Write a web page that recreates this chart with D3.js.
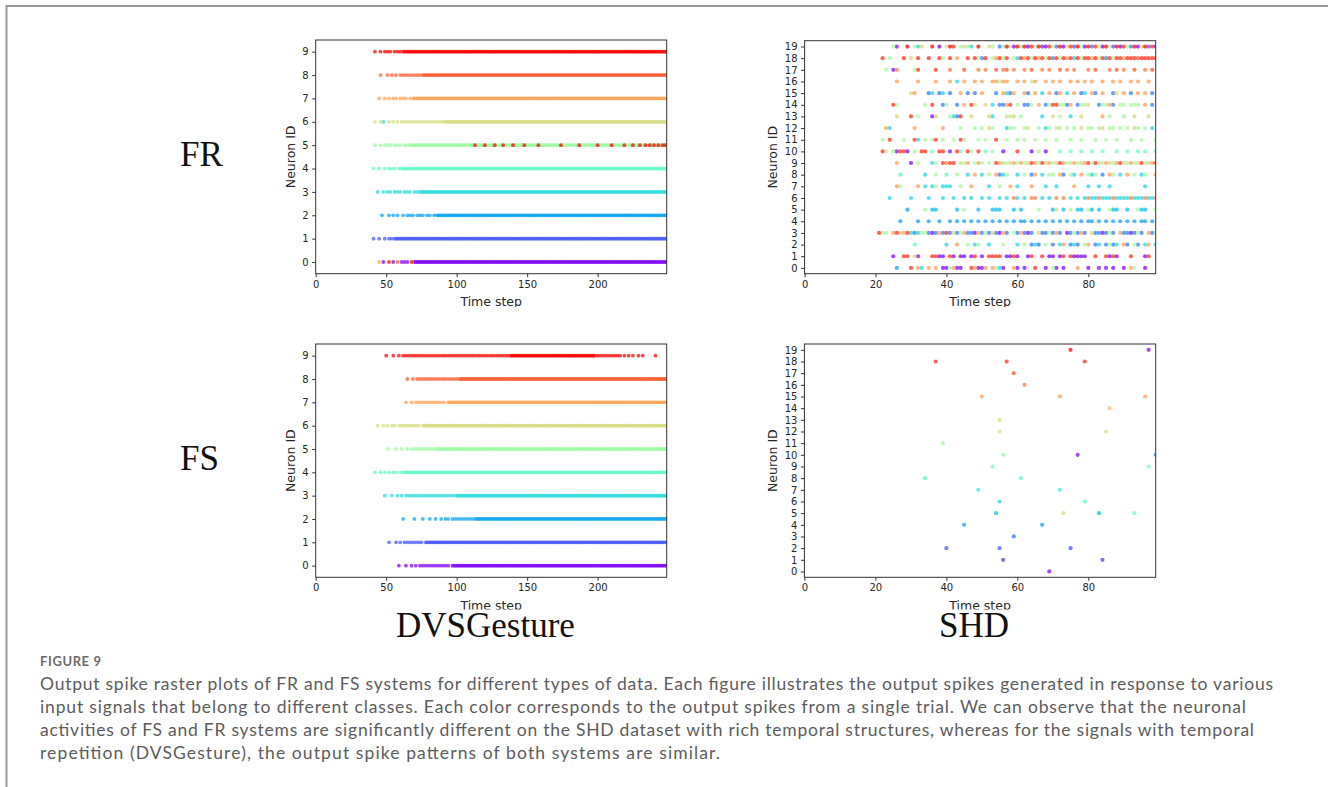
<!DOCTYPE html>
<html>
<head>
<meta charset="utf-8">
<script src="https://cdn.jsdelivr.net/npm/d3@7"></script>
<style>
  body { margin: 0; background: #fff; }
  svg { display: block; }
</style>
</head>
<body>
<svg id="fig" width="1328" height="787"></svg>
<script>
// ---------- axis data ----------
const dvsNeuronIds = [0, 1, 2, 3, 4, 5, 6, 7, 8, 9];
const shdNeuronIds = [0, 1, 2, 3, 4, 5, 6, 7, 8, 9, 10, 11, 12, 13, 14, 15, 16, 17, 18, 19];
const dvsTimeTicks = [0, 50, 100, 150, 200];
const shdTimeTicks = [0, 20, 40, 60, 80];
const dvsLastStep = 249;
const shdLastStep = 99;
const dvsClassCount = 10;
const shdClassCount = 20;

// ---------- DVSGesture, FR system ----------
// isolated spikes of neuron i emitted for a trial of class i
const frDvsSingles = [
  [48, 55, 61, 63, 65],
  [41, 45, 49, 52, 54],
  [47, 52, 55, 58, 62, 65, 67, 69, 72, 74, 76, 79, 81, 84],
  [44, 48, 51, 53, 56, 58, 60, 63, 65, 67, 70, 72],
  [41, 45, 49, 52, 54, 56, 59],
  [42, 46, 49, 51, 53, 56, 58, 60, 63, 65],
  [42, 46, 52, 55, 58, 61, 63, 65, 67, 69, 71, 73, 75, 77, 79, 81, 83, 85, 87, 89],
  [45, 49, 52, 55, 57, 60, 62, 64, 67],
  [46, 51, 54, 57, 60, 62, 64, 66, 68, 70, 72, 74],
  [42, 46, 49, 51, 53, 56, 58, 60]
];
// sustained firing: [neuron, first step, last step, interval]
const frDvsRuns = [
  [0, 70, 249, 1], [1, 56, 249, 1], [2, 86, 249, 1], [3, 74, 249, 1], [4, 61, 249, 1],
  [5, 67, 249, 1], [6, 91, 249, 1], [7, 69, 249, 1], [8, 76, 249, 1], [9, 62, 249, 1]
];
// spikes caused by trials of another class: [step, neuron, class]
const frDvsCross = [
  [45, 0, 7], [52, 0, 9], [58, 0, 8], [68, 0, 9], [48, 6, 3],
  [113, 5, 9], [120, 5, 9], [127, 5, 9], [133, 5, 9], [140, 5, 9], [148, 5, 9],
  [158, 5, 9], [174, 5, 9], [187, 5, 9], [200, 5, 9], [210, 5, 9], [219, 5, 9],
  [225, 5, 9], [230, 5, 9], [234, 5, 9], [237, 5, 9], [240, 5, 9], [243, 5, 9],
  [246, 5, 9], [248, 5, 9]
];

// ---------- DVSGesture, FS system ----------
const fsDvsSingles = [
  [59, 64, 68, 71, 74],
  [52, 57, 60, 63],
  [62, 70, 76, 81, 85, 89, 92, 94, 97],
  [49, 54, 58, 61, 64],
  [42, 46, 49, 52, 55, 57, 60],
  [51, 57, 61, 65, 68],
  [44, 48, 51, 54, 56, 59, 61],
  [64, 68, 71, 73],
  [65, 69],
  [50, 55, 59, 62, 64, 66, 68, 219, 222, 225, 229, 232, 241]
];
const fsDvsRuns = [
  [0, 76, 95, 2], [0, 97, 249, 1], [1, 65, 76, 2], [1, 78, 249, 1],
  [2, 99, 111, 2], [2, 113, 249, 1], [3, 66, 98, 2], [3, 100, 249, 1],
  [4, 62, 249, 1], [5, 70, 84, 2], [5, 86, 249, 1], [6, 63, 74, 2], [6, 76, 249, 1],
  [7, 75, 92, 2], [7, 94, 249, 1], [8, 72, 100, 2], [8, 102, 249, 1],
  [9, 70, 136, 2], [9, 138, 198, 1], [9, 200, 216, 2]
];
const fsDvsCross = [];

// ---------- SHD, FR system: per neuron, [step, class] ----------
const frShdSpikes = [
  // neuron 0
  [[26,4],[30,18],[32,15],[33,6],[35,15],[37,15],[39,0],[40,0],[41,11],[42,15],[43,0],[44,0],[47,18],[48,15],[49,0],[50,0],[51,15],[53,15],[54,11],[55,6],[56,0],[59,15],[60,0],[62,0],[65,18],[68,0],[70,11],[71,0],[73,0],[77,15],[80,0],[83,0],[85,0],[87,0],[90,0],[92,15],[93,11],[96,0]],
  // neuron 1
  [[25,0],[28,18],[29,18],[31,13],[32,0],[36,18],[37,18],[38,0],[39,0],[41,18],[42,0],[44,0],[45,0],[47,0],[48,18],[50,0],[52,18],[53,18],[54,18],[55,18],[57,0],[58,0],[59,18],[60,0],[63,0],[64,18],[67,18],[69,0],[70,0],[72,0],[73,18],[75,18],[76,0],[77,0],[78,0],[79,0],[82,18],[85,18],[86,0],[87,18],[88,0],[92,18],[96,0],[97,18]],
  // neuron 2
  [[31,8],[40,6],[43,15],[46,11],[48,6],[49,11],[52,6],[56,11],[60,6],[62,11],[64,3],[65,6],[66,3],[68,11],[70,3],[72,6],[73,15],[75,3],[76,6],[77,3],[79,11],[80,15],[82,3],[83,6],[85,3],[86,11],[87,3],[88,6],[90,15],[91,3],[93,11],[94,3],[96,6],[97,15],[99,6]],
  // neuron 3
  [[21,18],[22,11],[23,11],[25,15],[26,18],[27,13],[28,15],[29,18],[30,6],[31,3],[32,6],[33,11],[34,11],[35,3],[36,0],[37,3],[38,15],[39,3],[40,18],[41,3],[42,13],[43,3],[44,11],[45,15],[46,3],[47,3],[48,0],[49,15],[50,3],[51,11],[52,3],[53,13],[54,3],[55,0],[56,15],[57,3],[59,11],[60,3],[61,15],[62,3],[63,0],[64,3],[66,13],[67,3],[68,3],[69,11],[70,3],[71,15],[72,3],[74,0],[75,3],[76,11],[77,3],[78,15],[79,3],[81,13],[82,3],[83,3],[84,0],[85,3],[86,11],[87,3],[89,15],[90,3],[91,3],[92,0],[93,3],[94,11],[95,3],[97,15],[98,3],[99,11]],
  // neuron 4
  [[27,4],[32,4],[35,4],[38,4],[41,4],[43,4],[45,4],[47,4],[49,4],[51,4],[53,4],[55,4],[57,4],[59,4],[61,4],[62,4],[64,4],[66,4],[68,4],[70,4],[72,4],[74,4],[76,4],[78,4],[80,4],[81,4],[83,4],[85,4],[87,4],[89,4],[91,4],[93,4],[95,4],[96,4],[98,4]],
  // neuron 5
  [[29,4],[34,11],[36,5],[37,5],[43,5],[45,11],[49,5],[53,5],[54,5],[55,5],[59,5],[61,5],[66,11],[70,5],[71,13],[73,5],[75,11],[77,5],[78,5],[80,11],[81,5],[83,5],[86,11],[87,5],[88,5],[91,5],[94,11],[95,5],[96,5],[99,11]],
  // neuron 6
  [[24,6],[30,6],[35,6],[39,6],[42,6],[45,6],[47,6],[50,6],[52,6],[55,6],[57,6],[59,16],[60,6],[62,6],[64,16],[65,16],[67,6],[69,6],[71,16],[73,16],[75,6],[77,6],[79,6],[80,16],[81,6],[82,6],[83,16],[84,6],[85,6],[86,6],[87,16],[88,6],[89,6],[90,6],[91,6],[92,16],[93,6],[94,6],[95,6],[96,16],[97,6],[98,6],[99,16]],
  // neuron 7
  [[26,15],[27,11],[32,15],[34,6],[36,6],[37,11],[39,6],[40,6],[41,6],[44,11],[47,15],[52,6],[55,11],[58,15],[60,6],[64,15],[68,6],[71,6],[76,15],[80,6],[83,6],[86,6],[96,6]],
  // neuron 8
  [[27,8],[34,6],[37,11],[40,8],[43,11],[46,6],[48,15],[50,6],[52,11],[54,15],[55,3],[56,6],[57,11],[60,6],[62,11],[64,3],[65,15],[67,6],[69,11],[70,11],[72,15],[73,3],[75,11],[76,6],[78,15],[80,11],[81,6],[82,11],[84,3],[86,15],[87,11],[89,6],[91,15],[93,11],[95,6],[96,11],[99,15]],
  // neuron 9
  [[26,15],[30,0],[32,11],[36,6],[37,11],[39,18],[40,15],[41,18],[42,18],[44,13],[45,11],[46,15],[48,11],[49,15],[50,11],[52,11],[54,18],[55,15],[56,13],[57,11],[58,13],[59,15],[60,11],[61,15],[62,11],[63,13],[64,18],[65,15],[66,11],[67,18],[68,13],[69,15],[70,11],[71,13],[72,18],[73,15],[74,11],[75,13],[76,15],[77,11],[78,13],[79,15],[80,18],[81,11],[82,18],[83,13],[84,11],[85,15],[86,13],[87,11],[88,15],[89,18],[90,13],[91,11],[92,15],[93,11],[94,13],[95,18],[96,11],[97,13],[98,15],[99,18]],
  // neuron 10
  [[22,18],[23,11],[25,11],[26,0],[27,18],[28,18],[29,0],[31,11],[33,18],[34,18],[36,9],[38,18],[39,18],[41,0],[43,18],[44,9],[46,18],[47,11],[49,18],[51,9],[53,11],[56,0],[60,18],[64,0],[66,11],[68,0],[72,9],[75,9],[78,9],[81,9],[84,9],[88,9],[91,9],[94,9],[96,9],[99,9]],
  // neuron 11
  [[22,11],[24,18],[28,11],[31,18],[32,6],[34,11],[36,11],[37,18],[39,11],[42,11],[44,18],[45,11],[49,11],[51,11],[54,18],[57,11],[60,11],[62,11],[65,11],[68,11],[71,11],[75,11],[78,11],[82,11],[85,11],[88,11],[92,11],[95,11],[99,11]],
  // neuron 12
  [[23,15],[24,6],[31,15],[39,15],[44,11],[48,11],[50,11],[52,13],[53,11],[57,6],[58,11],[59,11],[62,11],[63,13],[66,11],[68,6],[69,11],[71,11],[72,13],[74,11],[76,11],[78,13],[80,11],[81,11],[83,11],[84,13],[86,11],[87,11],[89,11],[91,11],[93,13],[94,11],[96,11],[98,6]],
  // neuron 13
  [[26,13],[30,18],[32,12],[36,0],[37,13],[41,11],[42,6],[43,3],[44,18],[47,13],[52,13],[53,6],[57,13],[58,11],[59,13],[61,11],[67,6],[70,13],[72,11],[75,6],[78,13],[84,15],[86,11],[90,11],[93,13],[97,13]],
  // neuron 14
  [[25,18],[26,11],[34,11],[36,18],[39,3],[40,11],[43,3],[45,15],[47,18],[48,11],[51,13],[53,6],[55,3],[56,3],[57,15],[58,18],[60,11],[62,3],[63,3],[64,11],[66,15],[68,3],[69,11],[70,18],[71,18],[72,11],[73,11],[74,3],[75,15],[77,3],[78,11],[79,11],[80,13],[83,3],[84,11],[85,11],[86,15],[87,3],[89,11],[90,11],[92,11],[93,11],[94,11],[96,15],[98,3]],
  // neuron 15
  [[30,13],[31,15],[35,3],[36,6],[38,3],[39,6],[41,3],[44,15],[46,3],[48,3],[50,15],[54,3],[56,15],[57,6],[58,3],[59,15],[62,15],[63,3],[65,15],[67,6],[69,15],[71,3],[72,15],[74,6],[76,15],[78,3],[79,6],[81,15],[82,3],[84,15],[87,3],[88,13],[90,15],[92,3],[94,15],[96,15],[98,3]],
  // neuron 16
  [[26,15],[32,15],[37,15],[41,15],[43,6],[45,15],[48,15],[50,15],[53,15],[54,15],[55,11],[56,15],[57,15],[60,15],[62,15],[64,12],[65,15],[68,15],[70,15],[72,15],[75,15],[77,15],[79,15],[81,15],[84,15],[87,15],[89,15],[92,15],[94,15],[97,15]],
  // neuron 17
  [[23,11],[25,0],[26,16],[31,11],[32,18],[37,18],[41,16],[45,17],[49,16],[51,16],[54,17],[56,16],[57,17],[59,16],[62,16],[64,17],[67,16],[69,16],[72,17],[74,16],[76,16],[80,16],[82,17],[86,16],[88,17],[90,16],[93,17],[96,16],[98,17]],
  // neuron 18
  [[22,18],[24,11],[28,18],[30,13],[32,18],[35,18],[38,18],[39,11],[41,18],[43,15],[46,18],[48,18],[49,11],[50,3],[51,18],[53,11],[54,15],[55,18],[56,11],[57,18],[59,11],[60,6],[61,18],[62,15],[63,18],[64,11],[65,18],[66,15],[67,18],[68,11],[69,18],[70,4],[71,18],[72,11],[73,18],[74,15],[75,18],[76,6],[77,18],[78,11],[79,18],[80,18],[81,15],[82,18],[83,11],[84,18],[85,4],[86,18],[87,11],[88,18],[89,18],[90,15],[91,18],[92,18],[93,18],[94,17],[95,18],[96,18],[97,18],[98,18],[99,18]],
  // neuron 19
  [[25,11],[26,0],[29,19],[31,11],[32,6],[33,13],[36,19],[38,0],[40,11],[41,19],[42,18],[44,10],[45,13],[46,11],[47,6],[49,19],[52,13],[53,11],[55,3],[56,11],[57,19],[58,11],[59,0],[60,19],[61,11],[62,19],[63,0],[64,18],[65,11],[66,19],[67,1],[68,0],[69,18],[70,11],[71,3],[72,19],[73,0],[74,13],[75,18],[76,2],[77,19],[78,11],[79,0],[80,19],[81,3],[82,18],[83,12],[84,0],[85,19],[86,11],[87,2],[88,19],[89,0],[90,18],[91,11],[92,3],[93,19],[94,0],[95,13],[96,19],[97,2],[98,18],[99,0]]
];

// ---------- SHD, FS system: [step, neuron, class] ----------
const fsShdSpikes = [
  [75,19,19],[97,19,0],[37,18,18],[57,18,18],[79,18,18],[59,17,17],[62,16,16],
  [50,15,15],[72,15,15],[96,15,15],[86,14,14],[55,13,13],[55,12,12],[85,12,12],
  [39,11,11],[56,10,10],[77,10,0],[99,10,4],[53,9,9],[97,9,9],[34,8,8],[61,8,8],
  [49,7,7],[72,7,7],[55,6,6],[79,6,8],[54,5,5],[73,5,13],[83,5,5],[93,5,9],
  [45,4,4],[67,4,4],[59,3,3],[40,2,2],[55,2,2],[75,2,2],[56,1,1],[84,1,1],[69,0,0]
];

// ---------- text ----------
const rowLabels = ["FR", "FS"];
const columnLabels = ["DVSGesture", "SHD"];
const figureTag = "FIGURE 9";
const captionLines = [
  "Output spike raster plots of FR and FS systems for different types of data. Each figure illustrates the output spikes generated in response to various",
  "input signals that belong to different classes. Each color corresponds to the output spikes from a single trial. We can observe that the neuronal",
  "activities of FS and FR systems are significantly different on the SHD dataset with rich temporal structures, whereas for the signals with temporal",
  "repetition (DVSGesture), the output spike patterns of both systems are similar."
];

// ---------- helpers ----------
// matplotlib "rainbow" colour map
function rainbow(t) {
  const r = Math.min(1, Math.abs(2 * t - 0.5));
  const g = Math.sin(Math.PI * t);
  const b = Math.cos(Math.PI * t / 2);
  return d3.rgb(r * 255, g * 255, b * 255).formatHex();
}

// expand singles / runs / cross-class spikes into {t, n, c}
function dvsEvents(singles, runs, cross) {
  const out = [];
  singles.forEach((times, n) => times.forEach(t => out.push({ t, n, c: n })));
  runs.forEach(([n, a, b, every]) => {
    for (let t = a; t <= b; t += every) out.push({ t, n, c: n });
  });
  cross.forEach(([t, n, c]) => out.push({ t, n, c }));
  return out.sort((p, q) => p.c - q.c);
}

function shdRowEvents(rows) {
  const out = [];
  rows.forEach((row, n) => row.forEach(([t, c]) => out.push({ t, n, c })));
  return out.sort((p, q) => p.c - q.c);
}

const svg = d3.select("#fig");
const defs = svg.append("defs");

// page frame
svg.append("path")
  .attr("d", "M6.5,787 L6.5,6 L1328,6")
  .attr("fill", "none").attr("stroke", "#9a9a9a").attr("stroke-width", 2);

const panels = [
  { id: "frdvs", left: 315.7, right: 666.7, top: 40, bottom: 273.7, crop: 307,
    ids: dvsNeuronIds, ticks: dvsTimeTicks, last: dvsLastStep, classes: dvsClassCount,
    events: dvsEvents(frDvsSingles, frDvsRuns, frDvsCross), labelX: 290, r: 1.9 },
  { id: "frshd", left: 804.6, right: 1155.7, top: 40.7, bottom: 273.7, crop: 307,
    ids: shdNeuronIds, ticks: shdTimeTicks, last: shdLastStep, classes: shdClassCount,
    events: shdRowEvents(frShdSpikes), labelX: 772.5, r: 2.1 },
  { id: "fsdvs", left: 315.7, right: 666.7, top: 344, bottom: 577.3, crop: 609.5,
    ids: dvsNeuronIds, ticks: dvsTimeTicks, last: dvsLastStep, classes: dvsClassCount,
    events: dvsEvents(fsDvsSingles, fsDvsRuns, fsDvsCross), labelX: 290, r: 1.9 },
  { id: "fsshd", left: 804.4, right: 1155.7, top: 344, bottom: 577.3, crop: 609.5,
    ids: shdNeuronIds, ticks: shdTimeTicks, last: shdLastStep, classes: shdClassCount,
    events: fsShdSpikes.map(([t, n, c]) => ({ t, n, c })).sort((p, q) => p.c - q.c),
    labelX: 772.5, r: 2.1 }
];

panels.forEach(p => {
  defs.append("clipPath").attr("id", p.id + "-crop")
    .append("rect").attr("x", p.left - 70).attr("y", p.top - 15)
    .attr("width", p.right - p.left + 95).attr("height", p.crop - p.top + 15);
  defs.append("clipPath").attr("id", p.id + "-plot")
    .append("rect").attr("x", p.left).attr("y", p.top)
    .attr("width", p.right - p.left).attr("height", p.bottom - p.top);

  const g = svg.append("g").attr("clip-path", `url(#${p.id}-crop)`);
  const x = d3.scaleLinear().domain([0, p.last]).range([p.left, p.right]);
  const y = d3.scaleLinear().domain([-0.5, p.ids.length - 0.5]).range([p.bottom, p.top]);
  const color = d3.scaleSequential(rainbow).domain([0, p.classes - 1]);

  g.append("g").attr("clip-path", `url(#${p.id}-plot)`)
    .selectAll("circle").data(p.events).join("circle")
    .attr("cx", d => x(d.t)).attr("cy", d => y(d.n)).attr("r", p.r)
    .attr("fill", d => color(d.c)).attr("fill-opacity", 0.72);

  const xAxis = g.append("g").attr("transform", `translate(0,${p.bottom})`)
    .call(d3.axisBottom(x).tickValues(p.ticks).tickSize(3.5).tickPadding(3.5));
  const yAxis = g.append("g").attr("transform", `translate(${p.left},0)`)
    .call(d3.axisLeft(y).tickValues(p.ids).tickSize(3.5).tickPadding(3.5));
  [xAxis, yAxis].forEach(a => {
    a.select(".domain").remove();
    a.selectAll("line").attr("stroke", "#333");
    a.selectAll("text").attr("fill", "#262626")
      .style("font-family", "DejaVu Sans").style("font-size", "10px");
  });

  g.append("rect").attr("x", p.left).attr("y", p.top)
    .attr("width", p.right - p.left).attr("height", p.bottom - p.top)
    .attr("fill", "none").attr("stroke", "#333").attr("stroke-width", 1);

  g.append("text").attr("x", (p.left + p.right) / 2).attr("y", p.bottom + 32.5)
    .attr("text-anchor", "middle").attr("fill", "#262626")
    .style("font-family", "DejaVu Sans").style("font-size", "12.5px").text("Time step");
  g.append("text")
    .attr("transform", `translate(${p.labelX},${(p.top + p.bottom) / 2}) rotate(-90)`)
    .attr("text-anchor", "middle").attr("dy", "0.36em").attr("fill", "#262626")
    .style("font-family", "DejaVu Sans").style("font-size", "12.5px").text("Neuron ID");
});

// row and column titles
const serif = { "font-family": "Liberation Serif, Times New Roman, serif", "font-size": "35px" };
[[rowLabels[0], 180, 166], [rowLabels[1], 180, 469.5],
 [columnLabels[0], 396, 637], [columnLabels[1], 939, 637]].forEach(([t, x, y]) => {
  const el = svg.append("text").attr("x", x).attr("y", y).attr("fill", "#111").text(t);
  Object.entries(serif).forEach(([k, v]) => el.style(k, v));
});

// caption
svg.append("text").attr("x", 40).attr("y", 666)
  .attr("fill", "#6b6b6b").style("font-family", "Lato").style("font-weight", 700)
  .style("font-size", "13px").attr("textLength", 61).attr("lengthAdjust", "spacing")
  .text(figureTag);
const lineWidths = [1233, 1206, 1214, 680];
captionLines.forEach((line, i) => {
  svg.append("text").attr("x", 40).attr("y", 689.5 + i * 23)
    .attr("fill", "#5c5c5c").style("font-family", "Lato").style("font-size", "17.5px")
    .attr("textLength", lineWidths[i]).attr("lengthAdjust", "spacing")
    .text(line);
});
</script>
</body>
</html>
